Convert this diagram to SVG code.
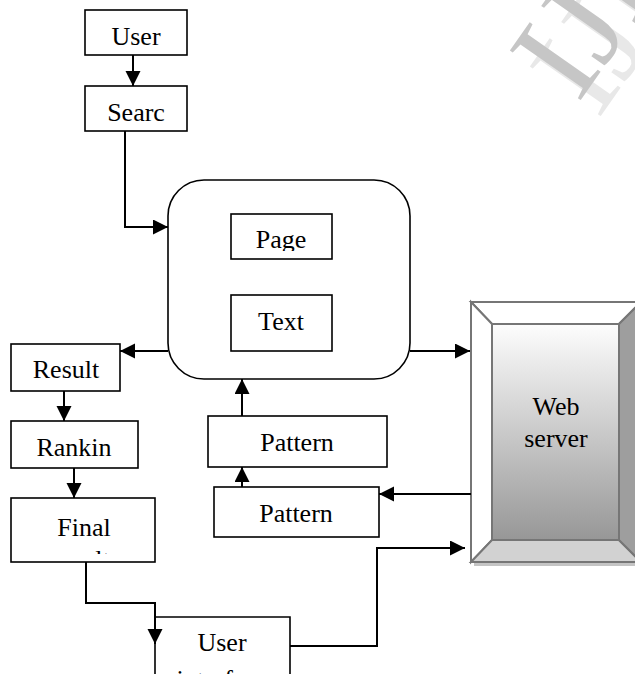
<svg xmlns="http://www.w3.org/2000/svg" width="635" height="674" viewBox="0 0 635 674">
  <style>
    .box { fill: #fff; stroke: #000; stroke-width: 1.6; }
    .lbl { font-family: "Liberation Serif", "Times New Roman", serif; font-size: 26px; fill: #000; text-anchor: middle; }
    .wire { fill: none; stroke: #000; stroke-width: 2; }
    .bevel { stroke: #767676; stroke-width: 2; stroke-linejoin: miter; }
    .wm { font-family: "Liberation Serif", "Times New Roman", serif; font-size: 132px; }
  </style>
  <defs>
    <marker id="arrow" markerUnits="userSpaceOnUse" markerWidth="16" markerHeight="16" refX="15" refY="7.5" orient="auto">
      <path d="M0,0 L15,7.5 L0,15 z" fill="#000"/>
    </marker>
    <linearGradient id="face" x1="0" y1="0" x2="0" y2="1">
      <stop offset="0" stop-color="#fdfdfd"/>
      <stop offset="1" stop-color="#979797"/>
    </linearGradient>
    <clipPath id="clipPage"><rect x="231" y="214" width="101" height="37"/></clipPath>
    <clipPath id="clipFinal"><rect x="11" y="498" width="144" height="56"/></clipPath>
  </defs>

  <rect width="635" height="674" fill="#fff"/>

  <!-- faint diagonal watermark in the top-right corner -->
  <g id="watermark">
    <text class="wm" fill="#e8e8e8" transform="translate(598,120) rotate(-55)">IJE</text>
    <text class="wm" fill="#c6c6c6" transform="translate(578,104) rotate(-55)">IJE</text>
  </g>

  <g id="user">
    <rect class="box" x="85" y="10" width="102" height="45"/>
    <text class="lbl" x="136" y="45">User</text>
  </g>

  <g id="search">
    <rect class="box" x="85" y="86" width="102" height="45"/>
    <text class="lbl" x="136" y="121">Searc</text>
  </g>

  <g id="engine">
    <rect class="box" x="168" y="180" width="242" height="199" rx="36" ry="36"/>
  </g>

  <g id="page">
    <rect class="box" x="231" y="214" width="101" height="45"/>
    <text class="lbl" x="281" y="248" clip-path="url(#clipPage)">Page</text>
  </g>

  <g id="text">
    <rect class="box" x="231" y="295" width="101" height="56"/>
    <text class="lbl" x="281" y="330">Text</text>
  </g>

  <g id="result">
    <rect class="box" x="11" y="344" width="109" height="47"/>
    <text class="lbl" x="66" y="378">Result</text>
  </g>

  <g id="ranking">
    <rect class="box" x="11" y="421" width="127" height="47"/>
    <text class="lbl" x="74" y="456">Rankin</text>
  </g>

  <g id="final">
    <rect class="box" x="11" y="498" width="144" height="64"/>
    <g clip-path="url(#clipFinal)">
      <text class="lbl" x="84" y="536">Final</text>
      <text class="lbl" x="86" y="568">results</text>
    </g>
  </g>

  <g id="pattern1">
    <rect class="box" x="208" y="416" width="179" height="51"/>
    <text class="lbl" x="297" y="451">Pattern</text>
  </g>

  <g id="pattern2">
    <rect class="box" x="214" y="487" width="165" height="50"/>
    <text class="lbl" x="296" y="522">Pattern</text>
  </g>

  <g id="user-interface">
    <path class="box" d="M155,680 V617 H290 V680"/>
    <text class="lbl" x="222" y="651">User</text>
    <text class="lbl" x="222" y="688">interface</text>
  </g>

  <g id="web-server">
    <rect x="474" y="305" width="170" height="261" fill="#c4c4c4"/>
    <polygon points="471,302 641,302 619,324 492,324" fill="#ffffff" class="bevel"/>
    <polygon points="471,302 492,324 492,540 471,562" fill="#ffffff" class="bevel"/>
    <polygon points="492,540 619,540 641,562 471,562" fill="#d2d2d2" class="bevel"/>
    <polygon points="619,324 641,302 641,562 619,540" fill="#9e9e9e" class="bevel"/>
    <rect x="492" y="324" width="127" height="216" fill="url(#face)" class="bevel"/>
    <rect x="471" y="302" width="170" height="260" fill="none" class="bevel"/>
    <text class="lbl" x="556" y="415">Web</text>
    <text class="lbl" x="556" y="447">server</text>
  </g>

  <g id="connectors">
    <line class="wire" x1="133" y1="55" x2="133" y2="86" marker-end="url(#arrow)"/>
    <polyline class="wire" points="125,131 125,227 168,227" marker-end="url(#arrow)"/>
    <line class="wire" x1="168" y1="351" x2="120" y2="351" marker-end="url(#arrow)"/>
    <line class="wire" x1="410" y1="351" x2="470" y2="351" marker-end="url(#arrow)"/>
    <line class="wire" x1="64" y1="391" x2="64" y2="421" marker-end="url(#arrow)"/>
    <line class="wire" x1="74" y1="468" x2="74" y2="498" marker-end="url(#arrow)"/>
    <line class="wire" x1="242" y1="416" x2="242" y2="379" marker-end="url(#arrow)"/>
    <line class="wire" x1="242" y1="487" x2="242" y2="467" marker-end="url(#arrow)"/>
    <line class="wire" x1="471" y1="494" x2="379" y2="494" marker-end="url(#arrow)"/>
    <polyline class="wire" points="86,562 86,603 155,603 155,644" marker-end="url(#arrow)"/>
    <polyline class="wire" points="290,646 377,646 377,548 465,548" marker-end="url(#arrow)"/>
  </g>
</svg>
